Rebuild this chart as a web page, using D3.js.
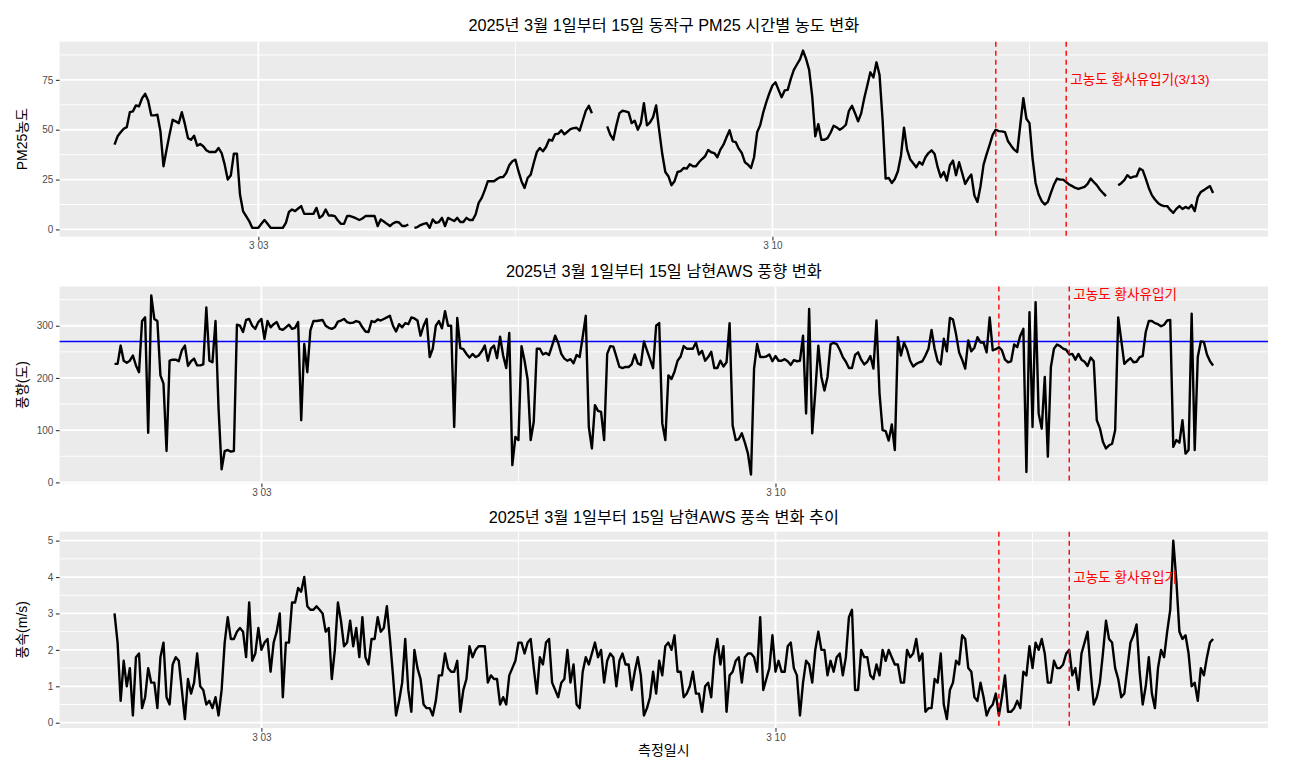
<!DOCTYPE html>
<html lang="ko">
<head>
<meta charset="UTF-8">
<title>동작구 PM25 / 남현AWS 풍향·풍속 (2025.3.1~15)</title>
<script src="https://d3js.org/d3.v7.min.js"></script>
<style>
  body { margin: 0; background: #fff; font-family: "Liberation Sans", "Noto Sans CJK KR", sans-serif; }
  svg { display: block; }
  .grid-major { stroke: #fff; stroke-width: 1.8; }
  .grid-minor { stroke: #fff; stroke-width: 0.9; }
  .axis .domain { display: none; }
  .axis line { stroke: #333; stroke-width: 1.1; }
  .axis text { fill: #4d4d4d; font-size: 10px; font-family: "Liberation Sans", "Noto Sans CJK KR", sans-serif; }
  .title { font-size: 16.3px; fill: #000; }
  .axis-title { font-size: 14px; fill: #000; }
  .series { fill: none; stroke: #000; stroke-width: 2.4; stroke-linejoin: round; }
  .dust { stroke: red; stroke-width: 1.4; stroke-dasharray: 5,4; }
  .dust-label { fill: red; font-size: 13.6px; }
</style>
</head>
<body>
<script>
// hourly PM25 (동작구), 3/01 01:00 ~ 3/16 00:00, null = 결측
const pm25 = [
  42.5, 46.7, 48.7, 50.5, 51.3, 58.8, 59.2, 62.2, 61.7, 65.8,
  68, 64.5, 57.2, 57.2, 57.5, 49.2, 31.7, 40, 47.8, 55,
  54.2, 53.3, 58.8, 52.8, 45.8, 45, 47, 42, 42.8, 41.7,
  39.7, 38.8, 38.8, 38.8, 40.8, 38.3, 32.5, 25, 27, 38,
  38, 17.5, 9.2, 6.7, 4.2, 0.8, 0.8, 0.8, 2.8, 4.7,
  2.8, 0.8, 0.8, 0.8, 0.8, 0.8, 3.3, 8.8, 10, 9.2,
  10.5, 11.7, 7.8, 7.8, 7.8, 7.8, 10.8, 5.8, 7, 10,
  7, 7, 6.7, 4.5, 2.8, 2.8, 6.7, 6.7, 6.2, 5.5,
  4.7, 5.5, 6.7, 6.7, 6.7, 6.7, 1.7, 5, 4, 2.8,
  1.7, 3, 3.8, 3.5, 1.7, 1.7, 2.5, null, 0.8, 1.2,
  2.2, 2.8, 3.2, 0.8, 5, 3.3, 3.7, 5.8, 1.7, 5.8,
  5, 4.2, 5.8, 3.7, 3.7, 5.8, 4.7, 4.7, 7.5, 13.3,
  15.8, 19.7, 24.2, 24.2, 24.2, 25.3, 26.2, 26.3, 28.3, 32.2,
  34.2, 35, 29.2, 24.2, 20.8, 25.8, 27.5, 33.3, 38.8, 40.8,
  39.2, 41.3, 45, 44.5, 47.8, 48, 49.7, 47.7, 49, 50.3,
  50.8, 51, 49.5, 54.5, 59.5, 62, 58.3, null, null, null,
  null, 51.7, 47.5, 45, 52.2, 58.3, 59.5, 59.2, 58.7, 53.3,
  54.5, 50, 53.3, 63.3, 52.2, 53.7, 56.3, 62.2, 49.5, 37.8,
  28.8, 26.7, 22.2, 24.2, 28.8, 29.2, 30.8, 30.5, 32.7, 31.7,
  31.7, 33.7, 35.3, 36.7, 39.8, 38.7, 38.3, 36.2, 40, 42.5,
  46.2, 49.7, 44.2, 43.8, 40.5, 38.3, 33.7, 32.5, 30.8, 36.2,
  48.7, 52.2, 58.7, 63.8, 68.3, 72.2, 73.8, 70, 66.3, 69.7,
  70, 75.5, 80, 82.7, 85.3, 89.7, 85.5, 80, 66.7, 46.7,
  52.8, 45, 45, 45.8, 48.5, 52, 51.2, 50, 51, 52.5,
  59.5, 62, 58.3, 54.2, 58.2, 65.8, 72.2, 78.8, 76.2, 83.8,
  77.5, 55, 25.5, 25.8, 23.3, 25.3, 29.2, 37, 51, 40,
  35.2, 33.2, 31.2, 33.8, 32.5, 36.2, 38.3, 39.7, 37.8, 31.2,
  26.2, 28.8, 24.5, 32.2, 34.5, 27.2, 33.7, 28.3, 22.8, 25.5,
  27.5, 17, 13.8, 21.7, 32.5, 37.8, 42.5, 47.5, 50, 49.3,
  49.2, 48.8, 44.2, 42, 40, 38.8, 52.5, 65.8, 55.5, 53.3,
  35.8, 23.3, 17.5, 14.2, 12.5, 13.8, 18.3, 22.5, 25.5, 25,
  25, 23.8, 22.5, 21.7, 20.8, 20.3, 20.8, 21.3, 22.8, 25.5,
  23.8, 22.2, 20, 18.3, 16.7, null, null, null, 22.2, 23.2,
  24.7, 27.2, 25.8, 26.5, 26.7, 30.5, 29.7, 25.5, 20.8, 17.2,
  15, 13.3, 12.2, 11.7, 11.7, 9.8, 8.3, 10.3, 11.7, 10.3,
  11.3, 10.5, 12.2, 9.2, 16.2, 18.8, 19.7, 20.8, 21.7, 18.3
];

// hourly wind direction (남현 AWS, 도), 3/01 00:00 ~ 3/15 23:00
const windDir = [
  227, 227, 262, 233, 229, 233, 243, 224, 211, 309,
  316, 95, 358, 313, 309, 205, 189, 60, 233, 235,
  235, 232, 253, 262, 223, 232, 237, 224, 224, 226,
  335, 233, 230, 309, 141, 25, 60, 62, 59, 60,
  302, 300, 288, 311, 313, 300, 294, 307, 313, 275,
  309, 297, 303, 307, 294, 292, 297, 302, 294, 296,
  307, 119, 265, 211, 291, 309, 309, 310, 311, 300,
  296, 294, 297, 308, 310, 313, 307, 305, 306, 309,
  307, 297, 289, 288, 309, 307, 312, 310, 313, 316,
  319, 300, 289, 303, 297, 305, 303, 316, 314, 310,
  281, 300, 313, 240, 256, 300, 309, 295, 328, 300,
  300, 106, 315, 257, 255, 246, 239, 246, 240, 243,
  251, 262, 233, 256, 262, 238, 279, 243, 219, 286,
  33, 87, 81, 261, 233, 197, 81, 116, 256, 256,
  245, 248, 244, 262, 281, 267, 246, 237, 233, 236,
  228, 244, 240, 279, 319, 106, 65, 148, 137, 135,
  81, 246, 261, 260, 241, 221, 219, 221, 221, 226,
  245, 228, 225, 270, 253, 236, 219, 300, 305, 113,
  81, 205, 198, 212, 233, 241, 261, 256, 256, 256,
  268, 245, 252, 233, 240, 250, 219, 219, 233, 222,
  230, 305, 109, 81, 83, 94, 76, 55, 15, 218,
  265, 240, 240, 241, 245, 232, 242, 233, 233, 236,
  232, 225, 234, 232, 233, 281, 132, 332, 94, 173,
  262, 202, 176, 202, 265, 267, 265, 254, 240, 231,
  219, 219, 244, 249, 235, 226, 231, 242, 218, 310,
  170, 100, 98, 80, 111, 62, 278, 243, 268, 254,
  233, 222, 227, 230, 232, 243, 256, 292, 256, 232,
  226, 275, 251, 315, 312, 284, 249, 235, 218, 272,
  251, 258, 278, 268, 268, 249, 316, 253, 255, 259,
  253, 235, 230, 232, 264, 259, 281, 294, 20, 326,
  106, 345, 132, 103, 202, 49, 221, 256, 264, 261,
  256, 254, 245, 246, 235, 246, 235, 231, 223, 239,
  232, 119, 104, 78, 65, 71, 74, 100, 316, 272,
  227, 233, 238, 230, 231, 240, 242, 288, 309, 309,
  305, 303, 299, 302, 310, 311, 68, 81, 76, 119,
  55, 62, 323, 62, 240, 270, 269, 245, 232, 224
];

// hourly wind speed (남현 AWS, m/s), 3/01 00:00 ~ 3/15 23:00
const windSpeed = [
  3.0, 2.2, 0.6, 1.7, 1.0, 1.5, 0.2, 1.8, 1.9, 0.4,
  0.7, 1.5, 1.1, 1.1, 0.4, 1.8, 2.2, 0.7, 0.5, 1.6,
  1.8, 1.7, 0.9, 0.1, 1.2, 0.8, 1.1, 1.9, 1.0, 0.9,
  0.5, 0.6, 0.4, 0.7, 0.2, 0.9, 2.2, 2.9, 2.3, 2.3,
  2.5, 2.6, 2.5, 1.8, 3.3, 1.7, 1.9, 2.6, 2.0, 2.2,
  2.3, 1.4, 2.2, 2.5, 3.0, 0.7, 2.2, 2.2, 3.3, 3.3,
  3.7, 3.6, 4.0, 3.2, 3.1, 3.1, 3.2, 3.1, 3.0, 2.5,
  2.6, 1.2, 2.0, 3.3, 2.8, 2.1, 2.2, 2.8, 2.1, 2.6,
  1.8, 2.9, 1.8, 1.6, 2.3, 2.3, 2.9, 2.5, 2.6, 3.2,
  2.3, 1.3, 0.2, 0.6, 1.1, 2.3, 0.9, 0.3, 2.0, 1.5,
  1.2, 0.5, 0.4, 0.4, 0.2, 0.6, 1.3, 1.3, 1.9, 1.5,
  1.4, 1.4, 1.7, 0.3, 0.9, 1.2, 2.1, 1.8, 2.0, 2.1,
  2.1, 2.1, 1.1, 1.3, 1.2, 1.2, 0.5, 0.7, 0.5, 1.3,
  1.5, 1.7, 2.2, 2.2, 1.9, 2.2, 2.3, 1.5, 0.8, 1.8,
  1.6, 2.2, 2.3, 1.1, 0.9, 0.7, 1.1, 1.2, 2.0, 1.1,
  1.6, 0.5, 0.4, 1.4, 1.8, 1.6, 1.9, 2.2, 1.8, 2.0,
  1.1, 1.7, 1.9, 1.8, 1.0, 1.7, 1.9, 1.6, 1.6, 0.9,
  1.4, 1.8, 1.3, 0.2, 0.4, 0.7, 1.4, 0.8, 1.7, 1.3,
  2.1, 2.2, 2.0, 2.4, 1.4, 1.4, 0.7, 0.8, 1.0, 1.4,
  0.8, 0.8, 0.3, 1.0, 1.1, 0.7, 1.8, 2.3, 1.6, 2.1,
  0.3, 1.3, 1.4, 1.7, 1.8, 1.1, 1.8, 1.9, 1.9, 1.8,
  1.4, 2.9, 0.9, 1.2, 1.5, 2.4, 1.4, 1.7, 1.4, 1.4,
  2.1, 2.2, 1.5, 1.3, 0.2, 1.1, 1.7, 1.6, 1.1, 2.0,
  2.5, 2.0, 2.0, 1.3, 1.7, 1.4, 1.8, 1.9, 1.3, 1.8,
  2.9, 3.1, 0.9, 0.9, 2.0, 1.8, 1.8, 1.3, 1.2, 1.6,
  1.3, 2.0, 1.7, 2.0, 1.8, 1.6, 1.6, 1.1, 1.1, 2.0,
  1.8, 1.9, 2.3, 1.7, 1.9, 0.3, 0.4, 0.4, 1.2, 1.1,
  1.9, 0.5, 0.1, 0.9, 1.1, 1.7, 1.6, 2.4, 2.3, 1.5,
  1.4, 0.7, 0.6, 1.1, 0.7, 0.2, 0.4, 0.5, 0.8, 0.2,
  0.7, 1.3, 0.3, 0.3, 0.4, 0.6, 0.4, 1.4, 1.3, 2.1,
  1.5, 2.2, 2.0, 2.3, 1.9, 1.1, 1.1, 1.7, 1.5, 1.5,
  1.6, 1.9, 2.0, 1.3, 1.5, 0.9, 1.9, 2.2, 2.5, 1.4,
  0.5, 0.7, 1.1, 1.9, 2.8, 2.3, 2.2, 1.5, 1.2, 0.7,
  0.8, 1.5, 2.2, 2.4, 2.7, 1.4, 0.5, 1.0, 1.8, 0.8,
  0.4, 1.5, 2.0, 1.8, 2.5, 3.1, 5.0, 3.9, 2.5, 2.3,
  2.4, 1.9, 1.0, 1.1, 0.6, 1.5, 1.3, 1.8, 2.2, 2.3
];

const pmStart = new Date(2025, 2, 1, 1);
const windStart = new Date(2025, 2, 1, 0);
const dateTicks = [new Date(2025, 2, 3), new Date(2025, 2, 10)];
const dateMinorTicks = [new Date(2025, 2, 6, 12), new Date(2025, 2, 13, 12)];
const dustStart = new Date(2025, 2, 13, 1);
const dustEnd = new Date(2025, 2, 14, 0);
const pmTicks = [0, 25, 50, 75];
const dirTicks = [0, 100, 200, 300];
const speedTicks = [0, 1, 2, 3, 4, 5];
const dirRef = 270;

const width = 1314, height = 771;
const left = 59.6, right = 1268;
const fmt = d3.timeFormat("%-m %d");

const svg = d3.select("body").append("svg")
  .attr("width", width)
  .attr("height", height);

// ggplot-style 5% expansion
function expand([a, b]) {
  const pad = (b - a) * 0.05;
  return [a - pad, b + pad];
}

function drawPanel(o) {
  const rows = o.values.map((v, i) => ({ t: d3.timeHour.offset(o.start, i), v }));
  const tExt = d3.extent(rows, d => d.t);
  const tPad = (tExt[1] - tExt[0]) * 0.05;
  const x = d3.scaleTime()
    .domain([new Date(+tExt[0] - tPad), new Date(+tExt[1] + tPad)])
    .range([left, right]);
  const y = d3.scaleLinear()
    .domain(expand(d3.extent(o.values)))
    .range([o.bottom, o.top]);
  const [y0, y1] = y.domain();

  const g = svg.append("g");

  g.append("rect")
    .attr("x", left).attr("y", o.top)
    .attr("width", right - left).attr("height", o.bottom - o.top)
    .attr("fill", "#ebebeb");

  // minor grid: midpoints of the major breaks
  const step = o.ticks[1] - o.ticks[0];
  const yMinor = [o.ticks[0] - step / 2, ...o.ticks.map(t => t + step / 2)]
    .filter(v => v > y0 && v < y1);
  g.selectAll(".ymin").data(yMinor).join("line")
    .attr("class", "grid-minor")
    .attr("x1", left).attr("x2", right)
    .attr("y1", d => y(d)).attr("y2", d => y(d));
  g.selectAll(".xmin").data(dateMinorTicks).join("line")
    .attr("class", "grid-minor")
    .attr("x1", d => x(d)).attr("x2", d => x(d))
    .attr("y1", o.top).attr("y2", o.bottom);

  g.selectAll(".ymaj").data(o.ticks).join("line")
    .attr("class", "grid-major")
    .attr("x1", left).attr("x2", right)
    .attr("y1", d => y(d)).attr("y2", d => y(d));
  g.selectAll(".xmaj").data(dateTicks).join("line")
    .attr("class", "grid-major")
    .attr("x1", d => x(d)).attr("x2", d => x(d))
    .attr("y1", o.top).attr("y2", o.bottom);

  if (o.hline != null) {
    g.append("line")
      .attr("x1", left).attr("x2", right)
      .attr("y1", y(o.hline)).attr("y2", y(o.hline))
      .attr("stroke", "#0000ff").attr("stroke-width", 1.5);
  }

  g.append("path")
    .datum(rows)
    .attr("class", "series")
    .attr("d", d3.line()
      .defined(d => d.v != null)
      .x(d => x(d.t))
      .y(d => y(d.v)));

  g.selectAll(".dust").data([dustStart, dustEnd]).join("line")
    .attr("class", "dust")
    .attr("x1", d => x(d)).attr("x2", d => x(d))
    .attr("y1", o.top).attr("y2", o.bottom);

  g.append("text")
    .attr("class", "dust-label")
    .attr("x", x(dustEnd) + 4)
    .attr("y", y(o.labelAt))
    .attr("dominant-baseline", "central")
    .text(o.label);

  g.append("g")
    .attr("class", "axis")
    .attr("transform", `translate(${left},0)`)
    .call(d3.axisLeft(y).tickValues(o.ticks).tickFormat(d3.format("d"))
      .tickSize(3.7).tickPadding(2.5))
    .call(a => a.select(".domain").remove());

  g.append("g")
    .attr("class", "axis")
    .attr("transform", `translate(0,${o.bottom})`)
    .call(d3.axisBottom(x).tickValues(dateTicks).tickFormat(fmt).tickSize(3.7).tickPadding(2))
    .call(a => a.select(".domain").remove());

  g.append("text")
    .attr("class", "title")
    .attr("x", (left + right) / 2)
    .attr("y", o.titleY)
    .attr("text-anchor", "middle")
    .text(o.title);

  g.append("text")
    .attr("class", "axis-title")
    .attr("transform", `translate(22,${(o.top + o.bottom) / 2}) rotate(-90)`)
    .attr("text-anchor", "middle")
    .attr("dominant-baseline", "central")
    .text(o.yTitle);
}

drawPanel({
  values: pm25, start: pmStart, ticks: pmTicks,
  top: 41.7, bottom: 236.7, titleY: 31,
  title: "2025년 3월 1일부터 15일 동작구 PM25 시간별 농도 변화",
  yTitle: "PM25농도",
  label: "고농도 황사유입기(3/13)", labelAt: 75
});

drawPanel({
  values: windDir, start: windStart, ticks: dirTicks, hline: dirRef,
  top: 286.5, bottom: 483.5, titleY: 277,
  title: "2025년 3월 1일부터 15일 남현AWS 풍향 변화",
  yTitle: "풍향(도)",
  label: "고농도 황사유입기", labelAt: 360
});

drawPanel({
  values: windSpeed, start: windStart, ticks: speedTicks,
  top: 531.7, bottom: 728, titleY: 523,
  title: "2025년 3월 1일부터 15일 남현AWS 풍속 변화 추이",
  yTitle: "풍속(m/s)",
  label: "고농도 황사유입기", labelAt: 4
});

svg.append("text")
  .attr("class", "axis-title")
  .attr("x", (left + right) / 2)
  .attr("y", 750)
  .attr("text-anchor", "middle")
  .attr("dominant-baseline", "central")
  .text("측정일시");
</script>
</body>
</html>
